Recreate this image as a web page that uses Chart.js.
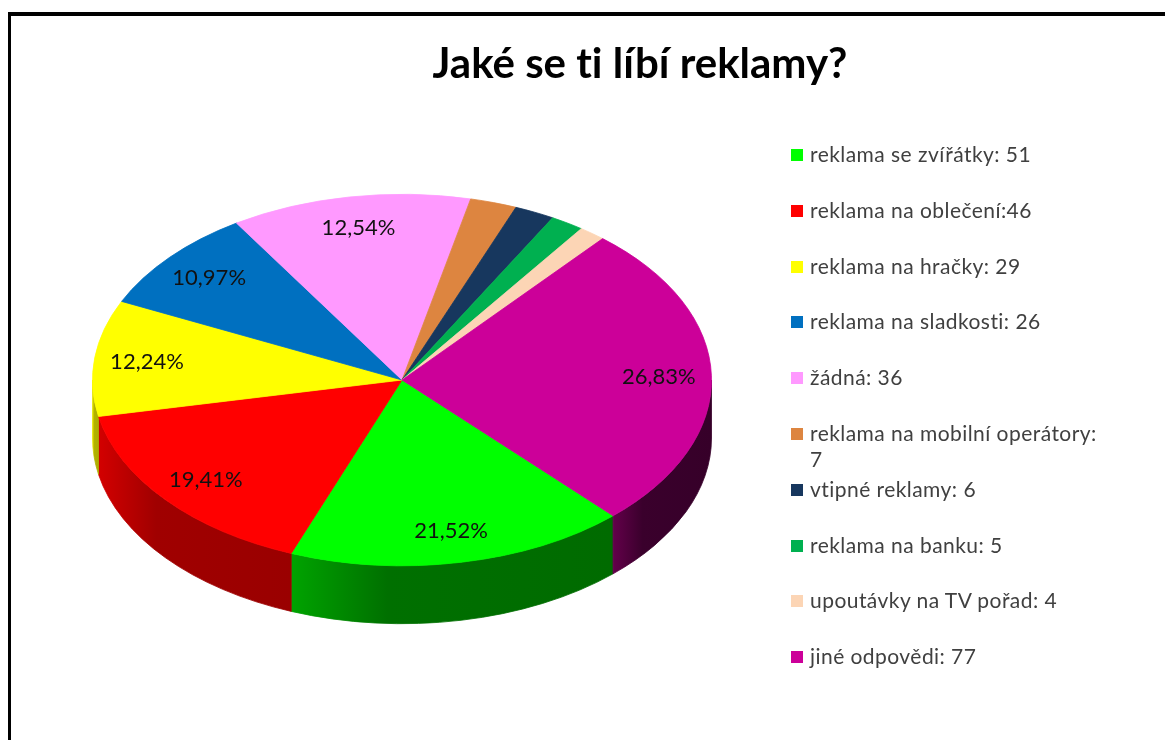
<!DOCTYPE html>
<html>
<head>
<meta charset="utf-8">
<script src="https://cdn.jsdelivr.net/npm/chart.js@4.4.0/dist/chart.umd.min.js"></script>
<style>
html,body{margin:0;padding:0;background:#fff;width:1165px;height:740px;overflow:hidden;font-family:Lato, "Open Sans", sans-serif;font-variant-ligatures:none;}
#frame{position:absolute;left:8px;top:12px;width:1200px;height:800px;border-top:4px solid #000;border-left:3px solid #000;box-sizing:border-box;}
#title{position:absolute;left:0;width:1280px;top:36px;text-align:center;font-weight:bold;font-size:42px;color:#000;line-height:52px;font-variant-ligatures:none;}
#chart{position:absolute;left:0;top:0;}
#legend{position:absolute;left:791px;top:141px;width:370px;}
.item{position:relative;height:55.8px;}
.sw{position:absolute;left:0;top:8px;width:12px;height:12px;}
.tx{position:absolute;left:19px;top:0;width:300px;font-size:21px;letter-spacing:0.45px;line-height:26px;color:#404040;}
</style>
</head>
<body>
<div id="frame"></div>
<canvas id="chart" width="1165" height="740"></canvas>
<div id="title"></div>
<div id="legend"></div>
<script>
const chartTitle = 'Jaké se ti líbí reklamy?';
const categories = [
  'reklama se zvířátky: 51',
  'reklama na oblečení:46',
  'reklama na hračky: 29',
  'reklama na sladkosti: 26',
  'žádná: 36',
  'reklama na mobilní operátory: 7',
  'vtipné reklamy: 6',
  'reklama na banku: 5',
  'upoutávky na TV pořad: 4',
  'jiné odpovědi: 77'
];
const values = [51, 46, 29, 26, 36, 7, 6, 5, 4, 77];
const pctLabels = ['21,52%', '19,41%', '12,24%', '10,97%', '12,54%', '', '', '', '', '26,83%'];
const colors = ['#00ff00', '#ff0000', '#ffff00', '#0070c0', '#ff99ff', '#dd8540', '#17375e', '#00b050', '#fcd5b5', '#cc0099'];

document.getElementById('title').textContent = chartTitle;
const leg = document.getElementById('legend');
categories.forEach((c, i) => {
  const it = document.createElement('div'); it.className = 'item';
  const sw = document.createElement('div'); sw.className = 'sw'; sw.style.background = colors[i];
  const tx = document.createElement('div'); tx.className = 'tx'; tx.textContent = c;
  it.appendChild(sw); it.appendChild(tx); leg.appendChild(it);
});

const K = 0.6, DEPTH = 58, LABEL_R = 0.83;
function shade(hex, f) {
  const n = parseInt(hex.slice(1), 16);
  const r = Math.round(((n >> 16) & 255) * f), g = Math.round(((n >> 8) & 255) * f), b = Math.round((n & 255) * f);
  return `rgb(${r},${g},${b})`;
}

const pie3d = {
  id: 'pie3d',
  beforeDatasetsDraw(chart) {
    const ctx = chart.ctx;
    const arcs = chart.getDatasetMeta(0).data;
    const cx = arcs[0].x, cy = arcs[0].y, R = arcs[0].outerRadius;
    ctx.save();
    arcs.forEach((arc, i) => {
      const s = arc.startAngle, e = arc.endAngle;
      for (let n = -2; n <= 2; n++) {
        const lo = Math.max(s, n * 2 * Math.PI), hi = Math.min(e, n * 2 * Math.PI + Math.PI);
        if (hi - lo <= 0.0001) continue;
        const xL = cx + R * Math.cos(hi), xR = cx + R * Math.cos(lo);
        const xm = (xL + xR) / 2;
        const gBase = 0.8 - 0.45 * ((xm - (cx - R)) / (2 * R));
        const grad = ctx.createLinearGradient(xL, 0, xR, 0);
        grad.addColorStop(0, shade(colors[i], Math.min(1, gBase + 0.1)));
        grad.addColorStop(0.3, shade(colors[i], gBase - 0.1));
        grad.addColorStop(1, shade(colors[i], gBase - 0.12));
        ctx.beginPath();
        ctx.ellipse(cx, cy, R, K * R, 0, lo, hi, false);
        ctx.ellipse(cx, cy + DEPTH, R, K * R, 0, hi, lo, true);
        ctx.closePath();
        ctx.fillStyle = grad;
        ctx.fill();
        ctx.strokeStyle = grad; ctx.lineWidth = 0.8; ctx.stroke();
      }
    });
    ctx.restore();
    ctx.save();
    ctx.translate(cx, cy); ctx.scale(1, K); ctx.translate(-cx, -cy);
  },
  afterDatasetsDraw(chart) {
    const ctx = chart.ctx;
    ctx.restore();
    const arcs = chart.getDatasetMeta(0).data;
    const cx = arcs[0].x, cy = arcs[0].y, R = arcs[0].outerRadius;
    ctx.save();
    ctx.font = '22px Lato';
    ctx.fillStyle = '#111';
    ctx.textAlign = 'center';
    ctx.textBaseline = 'middle';
    arcs.forEach((arc, i) => {
      if (!pctLabels[i]) return;
      const m = (arc.startAngle + arc.endAngle) / 2;
      const r = LABEL_R * R;
      ctx.fillText(pctLabels[i], cx + r * Math.cos(m), cy + K * r * Math.sin(m));
    });
    ctx.restore();
  }
};

new Chart(document.getElementById('chart'), {
  type: 'pie',
  data: {
    labels: categories,
    datasets: [{
      data: values,
      backgroundColor: colors,
      borderColor: colors,
      borderWidth: 1,
      clip: false
    }]
  },
  options: {
    responsive: false,
    devicePixelRatio: 1,
    animation: false,
    rotation: 137,
    layout: { padding: { left: 92, right: 453, top: 70, bottom: 50 } },
    plugins: { legend: { display: false }, title: { display: false }, tooltip: { enabled: false } }
  },
  plugins: [pie3d]
});
</script>
</body>
</html>
